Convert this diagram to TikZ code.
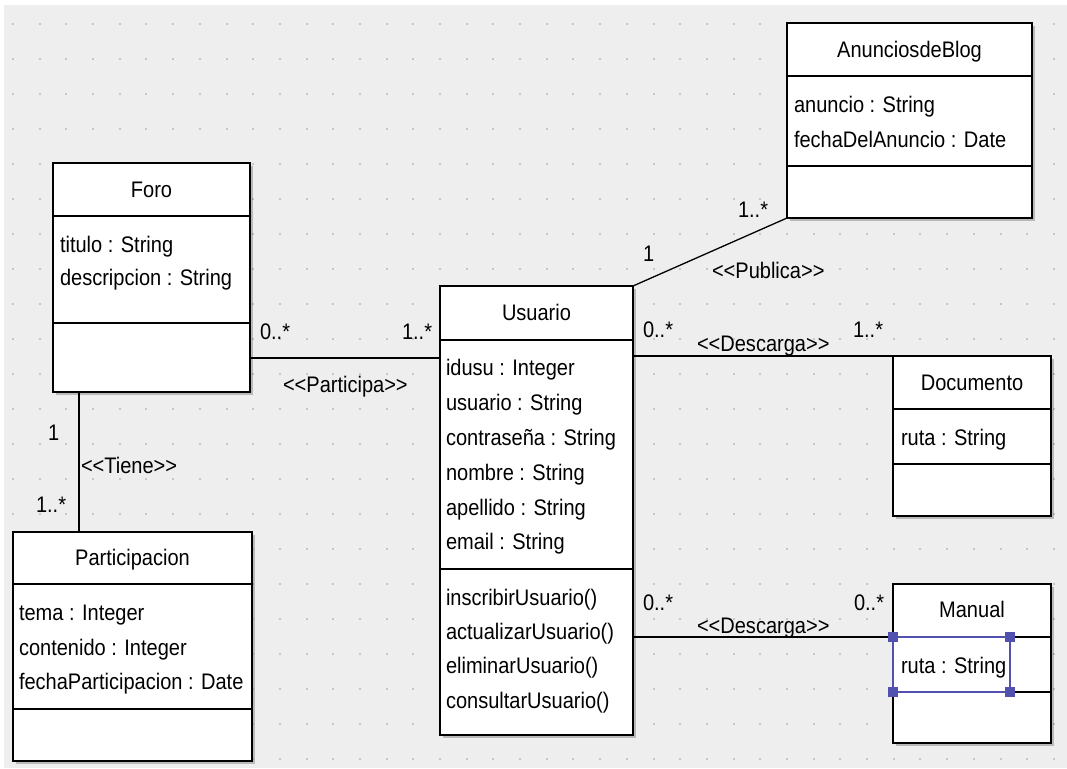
\documentclass[tikz,border=0pt]{standalone}
\usepackage{fontspec}
\setmainfont[FakeStretch=0.89]{Liberation Sans}
\definecolor{canvas}{HTML}{EEEEEE}
\definecolor{griddot}{HTML}{C6C6C6}
\definecolor{selblue}{HTML}{5252AE}
\tikzset{
  every node/.style={font=\fontsize{22.5}{26}\selectfont, inner sep=0pt, outer sep=0pt},
  classbox/.style={draw=black, line width=1.8pt, fill=white, anchor=north west},
  divider/.style={draw=black, line width=1.5pt},
  shade/.style={fill=black, opacity=0.22},
  assoc/.style={draw=black, line width=1.5pt},
  cname/.style={anchor=base},
  member/.style={anchor=base west},
  mult/.style={anchor=base west},
  stereo/.style={anchor=base west},
}
% \umlclass{name}{x}{y}{width}{height}{first divider}{second divider}
\newcommand\umlclass[7]{%
  \fill[shade] (#2+3,#3+3) rectangle ++(#4,#5);
  \node[classbox, minimum width=#4pt, minimum height=#5pt] (#1) at (#2,#3) {};
  \draw[divider] ([yshift=-#6pt]#1.north west) -- ([yshift=-#6pt]#1.north east);
  \draw[divider] ([yshift=-#7pt]#1.north west) -- ([yshift=-#7pt]#1.north east);
}
\begin{document}
\begin{tikzpicture}[x=1pt, y=-1pt]
  \useasboundingbox (0,0) rectangle (1067,768);
  \fill[white] (0,0) rectangle (1067,768);
  \fill[canvas] (4,5) rectangle (1067,768);
  % drawing grid
  \foreach \i in {0,...,39} {
    \foreach \j in {0,...,21} {
      \fill[griddot] ({12+26.69*\i},{23+35*\j}) rectangle ++(2,2);
    }
  }

  % classes
  \umlclass{foro}{53}{163}{197}{229}{53}{160}
  \umlclass{part}{13}{532}{239}{229}{52}{177}
  \umlclass{blog}{787}{23}{245}{195}{53}{143}
  \umlclass{usuario}{440}{286}{193}{449}{54}{283}
  \umlclass{doc}{893}{356}{158}{160}{53}{108}
  \umlclass{manual}{893}{584}{158}{159}{53}{108}

  % Foro
  \node[cname] (foroT) at (151.5,197) {Foro};
  \node[member] (foroA1) at (60,252) {titulo : String};
  \node[member] (foroA2) at (60,285) {descripcion : String};

  % Participacion
  \node[cname] (partT) at (132.5,565) {Participacion};
  \node[member] (partA1) at (19,620) {tema : Integer};
  \node[member] (partA2) at (19,655) {contenido : Integer};
  \node[member] (partA3) at (19,689) {fechaParticipacion : Date};

  % AnunciosdeBlog
  \node[cname] (blogT) at (909.5,58) {AnunciosdeBlog};
  \node[member] (blogA1) at (794,112) {anuncio : String};
  \node[member] (blogA2) at (794,147) {fechaDelAnuncio : Date};

  % Usuario
  \node[cname] (usuT) at (536.5,320) {Usuario};
  \node[member] (usuA1) at (446,375) {idusu : Integer};
  \node[member] (usuA2) at (446,410) {usuario : String};
  \node[member] (usuA3) at (446,445) {contraseña : String};
  \node[member] (usuA4) at (446,480) {nombre : String};
  \node[member] (usuA5) at (446,515) {apellido : String};
  \node[member] (usuA6) at (446,549) {email : String};
  \node[member] (usuM1) at (446,605) {inscribirUsuario()};
  \node[member] (usuM2) at (446,639) {actualizarUsuario()};
  \node[member] (usuM3) at (446,673) {eliminarUsuario()};
  \node[member] (usuM4) at (446,708) {consultarUsuario()};

  % Documento
  \node[cname] (docT) at (972,390) {Documento};
  \node[member] (docA1) at (901,445) {ruta : String};

  % Manual
  \node[cname] (manT) at (972,617) {Manual};
  \node[member] (manA1) at (901,673) {ruta : String};

  % connector end points
  \coordinate (tieneX) at (79,0);
  \coordinate (partY) at (0,358);
  \coordinate (manY) at (0,637);

  % associations
  \draw[assoc] (foro.south -| tieneX) -- (part.north -| tieneX);
  \draw[assoc] (foro.east |- partY) -- (usuario.west |- partY);
  \draw[assoc, line width=1.3pt] (usuario.north east) -- (blog.south west);
  \draw[assoc] (usuario.east |- doc.north west) -- (doc.north west);
  \draw[assoc] (usuario.east |- manY) -- (manual.west |- manY);

  % association labels
  \node[mult] (m1) at (48,440) {1};
  \node[stereo] (s1) at (81,473) {<{}<Tiene>{}>};
  \node[mult] (m2) at (36,512) {1..*};

  \node[mult] (m3) at (260,339) {0..*};
  \node[mult] (m4) at (402,339) {1..*};
  \node[stereo] (s2) at (283,392) {<{}<Participa>{}>};

  \node[mult] (m5) at (643,261) {1};
  \node[mult] (m6) at (738,217) {1..*};
  \node[stereo] (s3) at (712,278) {<{}<Publica>{}>};

  \node[mult] (m7) at (643,337) {0..*};
  \node[mult] (m8) at (853,337) {1..*};
  \node[stereo] (s4) at (697,351) {<{}<Descarga>{}>};

  \node[mult] (m9) at (643,610) {0..*};
  \node[mult] (m10) at (854,610) {0..*};
  \node[stereo] (s5) at (697,633) {<{}<Descarga>{}>};

  % selected attribute compartment
  \draw[selblue, line width=1.5pt] (893,637) rectangle (1010,692);
  \foreach \cx/\cy in {893/637, 1010/637, 893/692, 1010/692} {
    \fill[selblue] (\cx-5,\cy-5) rectangle ++(10,10);
  }
\end{tikzpicture}
\end{document}
